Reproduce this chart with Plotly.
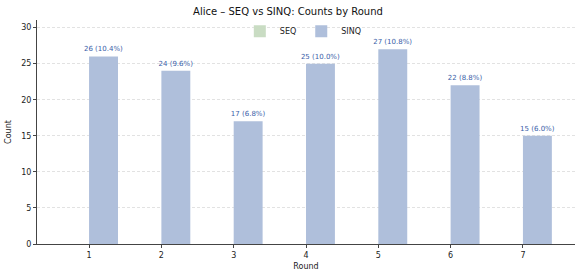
import plotly.graph_objects as go

rounds = [1, 2, 3, 4, 5, 6, 7]
seq_counts = [0, 0, 0, 0, 0, 0, 0]
sinq_counts = [26, 24, 17, 25, 27, 22, 15]
sinq_pct = [10.4, 9.6, 6.8, 10.0, 10.8, 8.8, 6.0]
y_ticks = [0, 5, 10, 15, 20, 25, 30]

labels = [f"{c} ({p:.1f}%)" for c, p in zip(sinq_counts, sinq_pct)]

font = "DejaVu Sans"
label_font = dict(family=font, size=7, color="#3a5ea8")
fig = go.Figure()
fig.add_trace(go.Bar(
    x=rounds, y=seq_counts, name="SEQ",
    marker=dict(color="#c9dcc3", line=dict(color="rgba(0,0,0,0)", width=0)),
))
fig.add_trace(go.Bar(
    x=rounds, y=sinq_counts, name="SINQ",
    marker=dict(color="#afbfdb", line=dict(color="rgba(0,0,0,0)", width=0)),
    text=labels, textposition="outside", cliponaxis=False,
    textfont=label_font, outsidetextfont=label_font,
))

fig.update_layout(
    width=576, height=274,
    margin=dict(l=37, r=1, t=20, b=30, autoexpand=False),
    paper_bgcolor="white", plot_bgcolor="white",
    barmode="group", bargap=0.2, bargroupgap=0,
    font=dict(family=font, size=8, color="#222222"),
    title=dict(text="Alice – SEQ vs SINQ: Counts by Round", x=0.5, xanchor="center",
               y=0.958, yanchor="middle", font=dict(size=10, color="#111111")),
    legend=dict(orientation="h", x=0.495, xanchor="center", y=1.015, yanchor="top",
                bgcolor="rgba(255,255,255,0)", font=dict(size=8),
                itemwidth=30, tracegroupgap=0),
    showlegend=True,
    uniformtext=dict(minsize=7, mode="show"),
)
fig.update_xaxes(
    range=[0.28, 7.72], tickmode="array", tickvals=rounds, ticktext=[str(r) for r in rounds],
    showgrid=False, showline=True, linecolor="#444444", linewidth=1,
    ticks="outside", ticklen=3, tickcolor="#444444", zeroline=False, automargin=False,
    title=dict(text="Round", font=dict(size=8), standoff=4),
)
fig.update_yaxes(
    range=[0, 31.05], tickvals=y_ticks,
    showgrid=True, gridcolor="#e2e2e2", griddash="3px,2px", gridwidth=0.7,
    showline=True, linecolor="#444444", linewidth=1,
    ticks="outside", ticklen=3, tickcolor="#444444", zeroline=False, automargin=False,
    title=dict(text="Count", font=dict(size=8), standoff=8),
)

fig.write_html("out.html", config={"displayModeBar": False},
               post_script="document.body.style.margin='0';")
